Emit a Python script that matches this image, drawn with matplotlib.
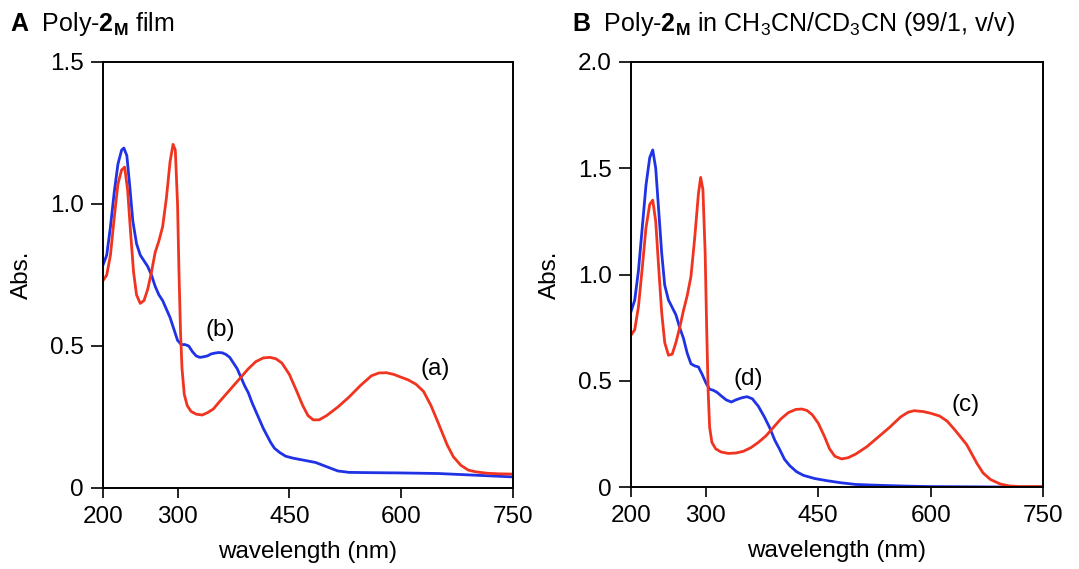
import matplotlib
matplotlib.use("Agg")
import matplotlib.pyplot as plt

plt.rcParams['font.family'] = ['Liberation Sans', 'DejaVu Sans']
plt.rcParams['mathtext.fontset'] = 'custom'
plt.rcParams['mathtext.rm'] = 'Liberation Sans'
plt.rcParams['mathtext.bf'] = 'Liberation Sans:bold'
plt.rcParams['mathtext.it'] = 'Liberation Sans:italic'

# ---------------- data ----------------
wl_a = [200, 205, 210, 215, 220, 225, 229, 233, 237, 241, 245, 250, 255, 260, 265, 270, 275, 280,
        285, 290, 294, 297, 300, 302, 304, 306, 309, 313, 318, 325, 333, 340, 348, 355, 365, 375,
        385, 395, 405, 415, 424, 432, 440, 450, 460, 468, 475, 482, 490, 500, 515, 530, 545, 560,
        570, 580, 590, 600, 610, 620, 630, 640, 648, 655, 662, 670, 680, 690, 700, 715, 730, 750]
abs_a = [0.73, 0.75, 0.82, 0.95, 1.07, 1.12, 1.13, 1.05, 0.90, 0.76, 0.68, 0.65, 0.66, 0.70, 0.76,
         0.83, 0.87, 0.92, 1.02, 1.15, 1.21, 1.19, 1.00, 0.75, 0.55, 0.42, 0.33, 0.29, 0.27, 0.26,
         0.257, 0.265, 0.278, 0.30, 0.33, 0.36, 0.39, 0.42, 0.445, 0.458, 0.46, 0.455, 0.44, 0.40,
         0.34, 0.29, 0.255, 0.24, 0.24, 0.255, 0.285, 0.32, 0.36, 0.395, 0.405, 0.406, 0.40, 0.39,
         0.38, 0.365, 0.34, 0.29, 0.24, 0.195, 0.15, 0.11, 0.08, 0.063, 0.057, 0.052, 0.05, 0.049]

wl_b = [200, 205, 210, 215, 220, 225, 228, 232, 236, 240, 245, 250, 255, 260, 265, 270, 275, 280,
        285, 290, 295, 300, 305, 310, 315, 320, 325, 330, 335, 340, 345, 350, 355, 360, 365, 370,
        375, 380, 385, 390, 395, 400, 405, 410, 415, 420, 425, 430, 437, 445, 455, 465, 475, 485,
        495, 505, 515, 530, 560, 600, 650, 700, 750]
abs_b = [0.785, 0.82, 0.92, 1.04, 1.14, 1.19, 1.197, 1.17, 1.06, 0.94, 0.86, 0.82, 0.80, 0.78, 0.75,
         0.71, 0.68, 0.66, 0.63, 0.60, 0.56, 0.52, 0.505, 0.505, 0.50, 0.48, 0.465, 0.46, 0.462,
         0.465, 0.472, 0.475, 0.477, 0.476, 0.47, 0.46, 0.44, 0.42, 0.39, 0.36, 0.335, 0.30, 0.27,
         0.24, 0.21, 0.185, 0.16, 0.14, 0.125, 0.112, 0.105, 0.10, 0.095, 0.09, 0.08, 0.07, 0.06,
         0.055, 0.054, 0.053, 0.051, 0.045, 0.039]

wl_c = [200, 205, 210, 215, 220, 225, 229, 233, 237, 241, 245, 250, 255, 260, 265, 270, 275, 280,
        285, 290, 293, 296, 299, 301, 303, 305, 308, 313, 320, 330, 340, 350, 360, 370, 380, 390,
        400, 410, 420, 428, 435, 442, 450, 458, 465, 472, 481, 490, 500, 515, 530, 545, 560, 570,
        578, 590, 600, 612, 622, 632, 640, 648, 655, 662, 670, 680, 693, 705, 720, 750]
abs_c = [0.715, 0.74, 0.85, 1.03, 1.22, 1.33, 1.35, 1.25, 1.03, 0.82, 0.68, 0.62, 0.625, 0.68, 0.75,
         0.83, 0.90, 0.99, 1.17, 1.38, 1.457, 1.40, 1.10, 0.75, 0.45, 0.28, 0.21, 0.18, 0.165, 0.158,
         0.16, 0.168, 0.185, 0.21, 0.24, 0.28, 0.32, 0.35, 0.365, 0.367, 0.36, 0.34, 0.30, 0.24, 0.18,
         0.145, 0.132, 0.138, 0.155, 0.19, 0.235, 0.28, 0.33, 0.352, 0.359, 0.355, 0.347, 0.334,
         0.31, 0.27, 0.235, 0.20, 0.155, 0.11, 0.066, 0.035, 0.014, 0.005, 0.002, 0.002]

wl_d = [200, 205, 210, 215, 220, 225, 229, 233, 237, 241, 245, 250, 255, 260, 265, 270, 275, 280,
        285, 290, 295, 300, 305, 310, 315, 320, 327, 334, 340, 348, 355, 362, 370, 378, 385, 392,
        398, 405, 412, 421, 430, 445, 461, 480, 500, 530, 570, 600, 650, 700, 750]
abs_d = [0.825, 0.88, 1.02, 1.22, 1.42, 1.55, 1.586, 1.50, 1.30, 1.10, 0.95, 0.88, 0.845, 0.81, 0.75,
         0.70, 0.63, 0.58, 0.57, 0.565, 0.53, 0.49, 0.46, 0.455, 0.445, 0.43, 0.41, 0.40, 0.41, 0.42,
         0.425, 0.415, 0.38, 0.33, 0.28, 0.22, 0.18, 0.13, 0.10, 0.072, 0.055, 0.04, 0.03, 0.02,
         0.012, 0.008, 0.004, 0.002, 0.001, 0.0, 0.0]

x_ticks = [200, 300, 450, 600, 750]
y_ticks_A = [0, 0.5, 1.0, 1.5]
y_tick_labels_A = ["0", "0.5", "1.0", "1.5"]
y_ticks_B = [0, 0.5, 1.0, 1.5, 2.0]
y_tick_labels_B = ["0", "0.5", "1.0", "1.5", "2.0"]

BLUE = '#1f32e6'
RED = '#f0341f'
FS = 17.5
FT = 18

fig = plt.figure(figsize=(10.79, 5.69), dpi=100)
axA = fig.add_axes([103 / 1079, 1 - 488 / 569, 410 / 1079, 426 / 569])
axB = fig.add_axes([631 / 1079, 1 - 487 / 569, 412 / 1079, 425 / 569])


def style(ax, yt, ytl, ymax):
    ax.set_xlim(200, 750)
    ax.set_ylim(0, ymax)
    ax.set_xticks(x_ticks)
    ax.set_xticklabels([str(t) for t in x_ticks])
    ax.set_yticks(yt)
    ax.set_yticklabels(ytl)
    ax.tick_params(axis='x', direction='out', length=7, width=1.2, pad=6, labelsize=FS)
    ax.tick_params(axis='y', direction='out', length=9, width=1.2, pad=5, labelsize=FS)
    ax.tick_params(top=False, right=False)
    for s in ax.spines.values():
        s.set_linewidth(1.4)
    ax.set_xlabel('wavelength (nm)', fontsize=FS, labelpad=9)
    ax.set_ylabel('Abs.', fontsize=FS, labelpad=12)


axA.plot(wl_b, abs_b, color=BLUE, lw=2)
axA.plot(wl_a, abs_a, color=RED, lw=2)
style(axA, y_ticks_A, y_tick_labels_A, 1.5)
axA.text(357, 0.556, '(b)', fontsize=FS, ha='center', va='center')
axA.text(645, 0.42, '(a)', fontsize=FS, ha='center', va='center')

axB.plot(wl_d, abs_d, color=BLUE, lw=2)
axB.plot(wl_c, abs_c, color=RED, lw=2)
style(axB, y_ticks_B, y_tick_labels_B, 2.0)
axB.text(357, 0.51, '(d)', fontsize=FS, ha='center', va='center')
axB.text(646, 0.386, '(c)', fontsize=FS, ha='center', va='center')

fig.text(10 / 1079, 1 - 24 / 569, r'$\mathbf{A}$  Poly-$\mathbf{2_M}$ film', fontsize=FT,
         ha='left', va='center')
fig.text(572 / 1079, 1 - 24 / 569,
         r'$\mathbf{B}$  Poly-$\mathbf{2_M}$ in CH$_3$CN/CD$_3$CN (99/1, v/v)', fontsize=FT,
         ha='left', va='center')

fig.savefig('out.png', dpi=100)
